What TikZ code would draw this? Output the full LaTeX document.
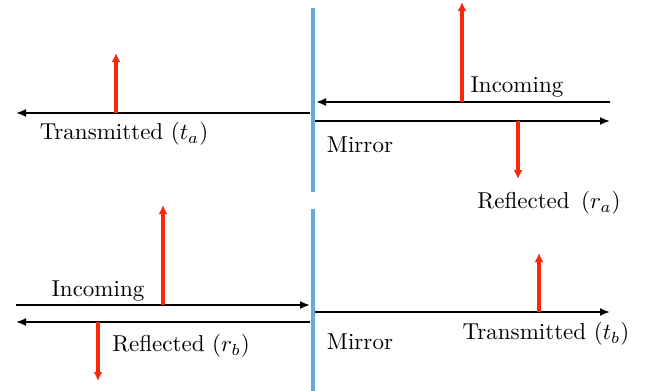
\documentclass[tikz,border=0pt]{standalone}
\usetikzlibrary{arrows.meta}
\definecolor{mirrorblue}{RGB}{100,170,225}
\definecolor{fieldred}{RGB}{250,40,10}
\begin{document}
\begin{tikzpicture}[x=1pt,y=-1pt,
  beam/.style={line width=1.8pt,black,-{Latex[length=10pt,width=8pt]}},
  field/.style={line width=3.3pt,fieldred,-{Latex[length=9pt,width=9pt]}},
  mirrorline/.style={line width=3.5pt,mirrorblue},
  lbl/.style={scale=2.3,inner sep=0pt}]
\useasboundingbox (0,0) rectangle (649,391);
% mirrors
\coordinate (m1t) at (313,8);  \coordinate (m1b) at (313,192);
\coordinate (m2t) at (313,209); \coordinate (m2b) at (313,391);
\draw[mirrorline] (m1t) -- (m1b);
\draw[mirrorline] (m2t) -- (m2b);
% ---- top panel
\coordinate (ta0) at (310,113); \coordinate (ta1) at (16,113);
\coordinate (ia0) at (610,102); \coordinate (ia1) at (316,102);
\coordinate (ra0) at (315,121); \coordinate (ra1) at (610,121);
\draw[beam] (ta0) -- (ta1);
\draw[beam] (ia0) -- (ia1);
\draw[beam] (ra0) -- (ra1);
\coordinate (fta0) at (116,113); \coordinate (fta1) at (116,53);
\coordinate (fia0) at (462,102); \coordinate (fia1) at (462,2);
\coordinate (fra0) at (518,121); \coordinate (fra1) at (518,179);
\draw[field] (fta0) -- (fta1);
\draw[field] (fia0) -- (fia1);
\draw[field] (fra0) -- (fra1);
\node[lbl] (lta) at (124,134) {Transmitted $(t_a)$};
\node[lbl] (lia) at (517,87) {Incoming};
\node[lbl] (lma) at (360,145) {Mirror};
\node[lbl] (lra) at (549,203) {Reflected\, $(r_a)$};
% ---- bottom panel
\coordinate (ib0) at (16,305); \coordinate (ib1) at (310,305);
\coordinate (rb0) at (310,322); \coordinate (rb1) at (16,322);
\coordinate (tb0) at (315,312); \coordinate (tb1) at (610,312);
\draw[beam] (ib0) -- (ib1);
\draw[beam] (rb0) -- (rb1);
\draw[beam] (tb0) -- (tb1);
\coordinate (fib0) at (163,305); \coordinate (fib1) at (163,205);
\coordinate (frb0) at (98,322); \coordinate (frb1) at (98,381);
\coordinate (ftb0) at (539,312); \coordinate (ftb1) at (539,253);
\draw[field] (fib0) -- (fib1);
\draw[field] (frb0) -- (frb1);
\draw[field] (ftb0) -- (ftb1);
\node[lbl] (lib) at (98,291) {Incoming};
\node[lbl] (lrb) at (181,346) {Reflected $(r_b)$};
\node[lbl] (ltb) at (546,334) {Transmitted $(t_b)$};
\node[lbl] (lmb) at (360,342) {Mirror};
\end{tikzpicture}
\end{document}
